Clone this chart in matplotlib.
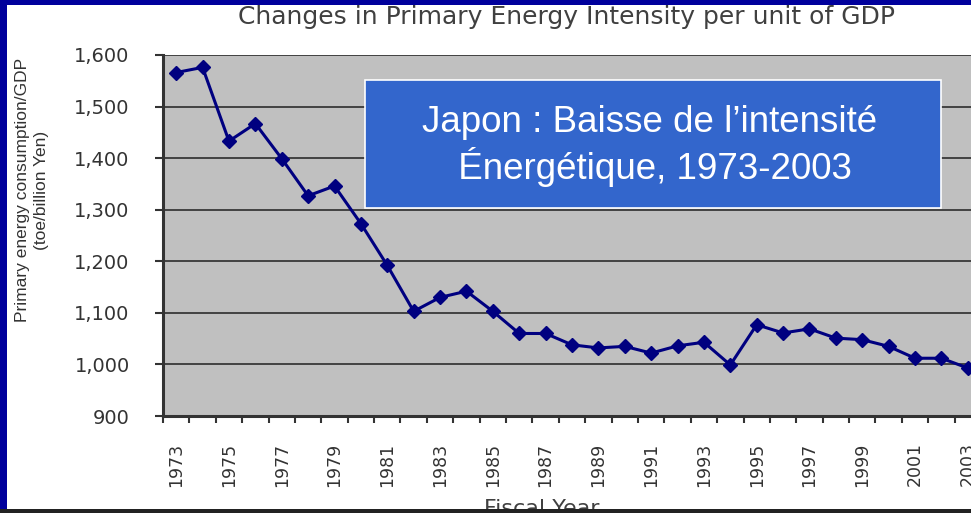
import numpy as np
import matplotlib
matplotlib.use("Agg")
import matplotlib.pyplot as plt
from matplotlib.patches import Rectangle
from matplotlib.ticker import FuncFormatter

# data
years = list(range(1973, 2004))
intensity = [1566, 1576, 1433, 1467, 1399, 1327, 1346, 1273, 1192, 1103,
             1130, 1142, 1103, 1060, 1060, 1038, 1032, 1035, 1022, 1036,
             1043, 999, 1077, 1061, 1069, 1051, 1048, 1035, 1012, 1012, 993]
year_labels = [str(y) if (y - 1973) % 2 == 0 else "" for y in years]
y_ticks = [900, 1000, 1100, 1200, 1300, 1400, 1500, 1600]

W, H = 971, 513
fig = plt.figure(figsize=(W / 100, H / 100), dpi=100)
fig.patch.set_facecolor("white")

def fx(px):
    return px / W

def fy(py):
    return 1 - py / H

# plot area runs off the right edge like the cropped original
left, right, top, bottom = 163, 981, 55, 416
ax = fig.add_axes([fx(left), fy(bottom), fx(right - left), (bottom - top) / H])
ax.set_facecolor("#c0c0c0")

x = np.arange(len(years))
ax.plot(x, intensity, color="#000080", lw=2.2, marker="D", ms=7,
        mec="#000080", mfc="#000080", zorder=3)

ax.set_xlim(-0.5, len(years) - 0.5)
ax.set_ylim(900, 1600)
ax.set_yticks(y_ticks)
ax.yaxis.set_major_formatter(FuncFormatter(lambda v, p: f"{int(v):,}"))
ax.grid(axis="y", color="#383838", lw=1.3)
ax.set_axisbelow(True)

ax.set_xticks(x)
ax.set_xticklabels(year_labels, rotation=90, fontsize=12.5, color="#333333",
                   family="DejaVu Sans")
ax.set_xticks(np.arange(len(years) + 1) - 0.5, minor=True)
ax.tick_params(axis="x", which="major", length=0, pad=19)
ax.tick_params(axis="x", which="minor", length=5, width=1.5, color="#333333")
ax.tick_params(axis="y", length=6, width=1.5, color="#333333", pad=18,
               labelsize=14, labelcolor="#333333")
for lab in ax.get_yticklabels():
    lab.set_family("DejaVu Sans")

for s in ["top", "right"]:
    ax.spines[s].set_visible(False)
for s in ["left", "bottom"]:
    ax.spines[s].set_color("#333333")
    ax.spines[s].set_linewidth(2.2)

fig.text(fx(567), fy(5), "Changes in Primary Energy Intensity per unit of GDP",
         ha="center", va="top", fontsize=18, color="#404040", family="DejaVu Sans")
fig.text(fx(32), fy(190), "Primary energy consumption/GDP\n(toe/billion Yen)",
         rotation=90, ha="center", va="center", ma="center", fontsize=12.5,
         color="#333333", family="Liberation Sans", linespacing=1.35)
fig.text(fx(542), fy(499), "Fiscal Year", ha="center", va="top", fontsize=16,
         color="#404040", family="DejaVu Sans")

# blue annotation box
fig.patches.append(Rectangle((fx(365), fy(208)), fx(941 - 365), (208 - 80) / H,
                             transform=fig.transFigure, facecolor="#3366cc",
                             edgecolor="white", lw=1.2, zorder=5))
fig.text(fx(650), fy(146), "Japon : Baisse de l\u2019intensit\u00e9\n \u00c9nerg\u00e9tique, 1973-2003",
         ha="center", va="center", ma="center", fontsize=26.5, color="white",
         family="Liberation Sans", linespacing=1.2, zorder=6)

# slide frame: blue strip left and top, dark line at the bottom
fig.patches.append(Rectangle((0, 0), fx(7), 1, transform=fig.transFigure,
                             facecolor="#00009c", edgecolor="none", zorder=7))
fig.patches.append(Rectangle((0, fy(5)), 1, 5 / H, transform=fig.transFigure,
                             facecolor="#00009c", edgecolor="none", zorder=7))
fig.patches.append(Rectangle((0, 0), 1, 4 / H, transform=fig.transFigure,
                             facecolor="#222222", edgecolor="none", zorder=7))

fig.savefig("out.png", dpi=100)
